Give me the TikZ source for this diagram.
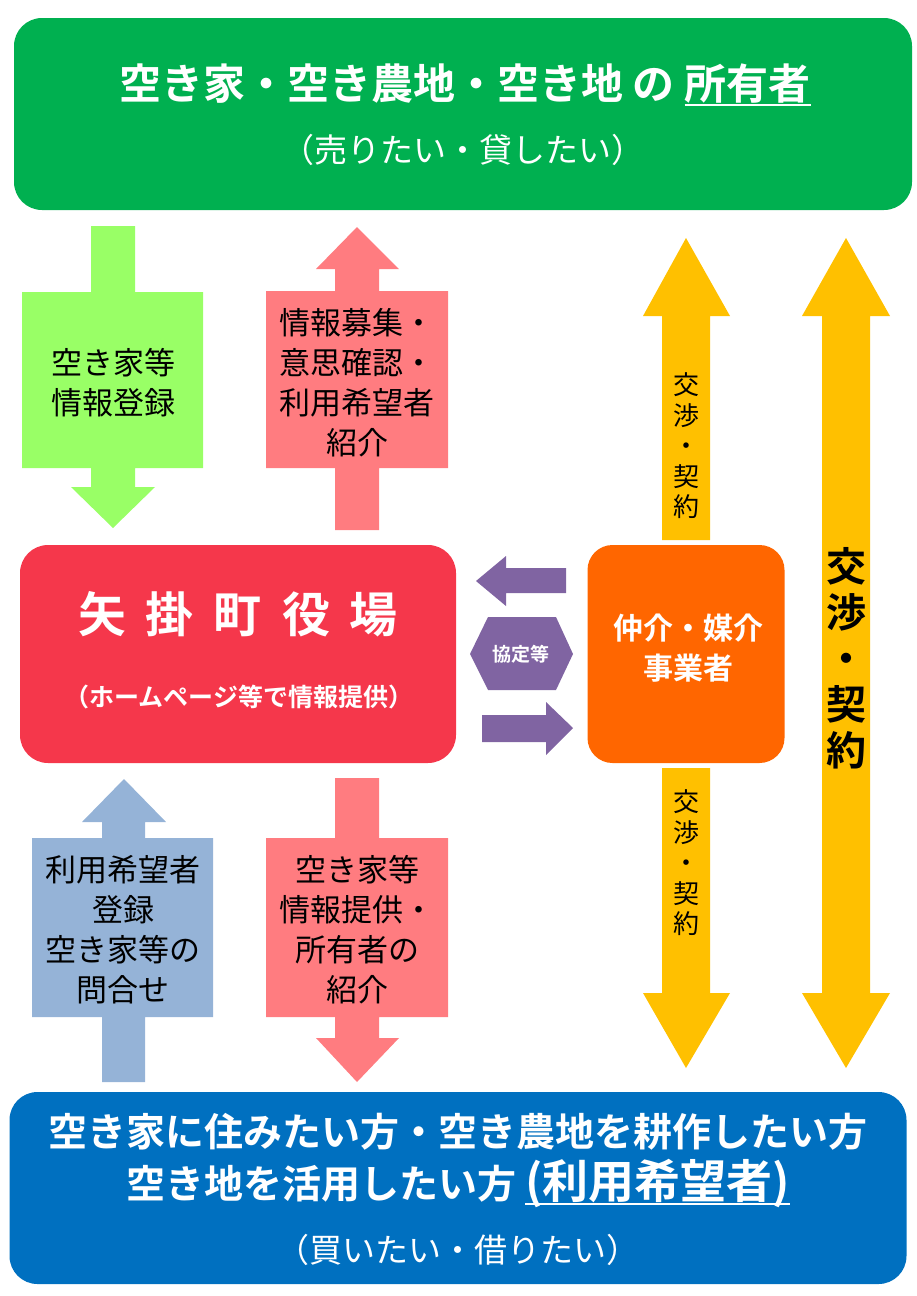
\documentclass[tikz,border=0pt]{standalone}
\usepackage{fontspec}
\setmainfont{Noto Sans CJK JP}[BoldFont={Noto Sans CJK JP Bold}]
\usetikzlibrary{positioning, calc}
\definecolor{ownergreen}{RGB}{0, 176, 80}
\definecolor{reggreen}{RGB}{153, 255, 102}
\definecolor{infopink}{RGB}{255, 124, 128}
\definecolor{dealyellow}{RGB}{255, 192, 0}
\definecolor{townred}{RGB}{245, 55, 75}
\definecolor{brokerorange}{RGB}{255, 102, 0}
\definecolor{pactpurple}{RGB}{128, 100, 162}
\definecolor{userblue}{RGB}{149, 179, 215}
\definecolor{userbox}{RGB}{0, 112, 192}
\newcommand{\thickul}[1]{\setbox0\hbox{#1}\rlap{\rule[-7pt]{\wd0}{2.5pt}}\box0}

\begin{document}
\begin{tikzpicture}[
    x=1pt, y=-1pt,
    mainbox/.style={rounded corners=28pt, inner sep=0pt},
    whitetext/.style={text=white, font=\bfseries, align=center, inner sep=0pt},
    subtext/.style={text=white, align=center, inner sep=0pt},
    arrowtext/.style={text=black, align=center, inner sep=0pt, font=\fontsize{31}{40}\selectfont},
    dealtext/.style={text=black, align=center, inner sep=0pt, font=\fontsize{26}{30.5}\selectfont}
]
\useasboundingbox (0,0) rectangle (917,1296);

% Owner box
\node (owner) [mainbox, fill=ownergreen, minimum width=898pt, minimum height=192pt] at (463,114) {};
\node (ownertitle) [whitetext, font=\bfseries\fontsize{42}{48}\selectfont] at (465,85) {空き家・空き農地・空き地 の \thickul{所有者}};
\node (ownersub) [subtext, font=\fontsize{33}{36}\selectfont] at (463,150) {（売りたい・貸したい）};

% Registration and recruiting arrows
\fill[reggreen] (91,226) -- (135,226) -- (135,292) -- (203,292) -- (203,468) -- (135,468) -- (135,487) -- (155,487) -- (113,528) -- (71,487) -- (91,487) -- (91,468) -- (22,468) -- (22,292) -- (91,292) -- cycle;
\node (reg) [arrowtext] at (113,383) {空き家等\\情報登録};

\fill[infopink] (357,227) -- (399,269) -- (379,269) -- (379,291) -- (448,291) -- (448,468) -- (379,468) -- (379,530) -- (335,530) -- (335,468) -- (266,468) -- (266,291) -- (335,291) -- (335,269) -- (316,269) -- cycle;
\node (recruit) [arrowtext] at (357,383) {情報募集・\\意思確認・\\利用希望者\\紹介};

% Negotiation arrows
\fill[dealyellow] (686,238) -- (730,316) -- (710,316) -- (710,540) -- (662,540) -- (662,316) -- (643,316) -- cycle;
\node (dealup) [dealtext] at (686,446) {交\\渉\\・\\契\\約};

\fill[dealyellow] (686,1068) -- (730,993) -- (710,993) -- (710,768) -- (662,768) -- (662,993) -- (643,993) -- cycle;
\node (dealdown) [dealtext] at (686,863) {交\\渉\\・\\契\\約};

\fill[dealyellow] (846,238) -- (890,316) -- (870,316) -- (870,993) -- (890,993) -- (846,1068) -- (802,993) -- (822,993) -- (822,316) -- (802,316) -- cycle;
\node (dealall) [dealtext, font=\bfseries\fontsize{40}{46}\selectfont] at (846,658) {交\\渉\\・\\契\\約};

% Town office
\node (town) [mainbox, fill=townred, minimum width=436pt, minimum height=218pt] at (238,654) {};
\node (towntitle) [whitetext, font=\bfseries\fontsize{48}{50}\selectfont] at (238,614) {矢\hspace{20pt}掛\hspace{20pt}町\hspace{20pt}役\hspace{20pt}場};
\node (townsub) [whitetext, font=\bfseries\fontsize{25}{28}\selectfont] at (239,697) {（ホームページ等で情報提供）};

% Agreement
\fill[pactpurple] (476,581) -- (506,556) -- (506,568) -- (566,568) -- (566,593) -- (506,593) -- (506,606) -- cycle;
\fill[pactpurple] (470,654) -- (488,617) -- (556,617) -- (573,654) -- (556,690) -- (488,690) -- cycle;
\node (pact) [whitetext, font=\bfseries\fontsize{19}{20}\selectfont] at (521,654) {協定等};
\fill[pactpurple] (573,728) -- (546,702) -- (546,715) -- (482,715) -- (482,742) -- (546,742) -- (546,755) -- cycle;

% Broker
\node (broker) [mainbox, rounded corners=25pt, fill=brokerorange, minimum width=197pt, minimum height=218pt] at (686,654) {};
\node (brokertext) [whitetext, font=\bfseries\fontsize{30}{40}\selectfont] at (688,648) {仲介・媒介\\事業者};

% User registration and introduction arrows
\fill[userblue] (124,779) -- (166,822) -- (145,822) -- (145,838) -- (213,838) -- (213,1017) -- (145,1017) -- (145,1082) -- (102,1082) -- (102,1017) -- (32,1017) -- (32,838) -- (102,838) -- (102,822) -- (82,822) -- cycle;
\node (userreg) [arrowtext] at (123,930) {利用希望者\\登録\\空き家等の\\問合せ};

\fill[infopink] (335,778) -- (379,778) -- (379,838) -- (448,838) -- (448,1017) -- (379,1017) -- (379,1038) -- (399,1038) -- (357,1082) -- (316,1038) -- (335,1038) -- (335,1017) -- (266,1017) -- (266,838) -- (335,838) -- cycle;
\node (intro) [arrowtext] at (357,930) {空き家等\\情報提供・\\所有者の\\紹介};

% User box
\node (users) [mainbox, fill=userbox, minimum width=897pt, minimum height=192pt] at (458,1188) {};
\node (userline1) [whitetext, font=\bfseries\fontsize{39}{46}\selectfont] at (458,1132) {空き家に住みたい方・空き農地を耕作したい方};
\node (userline2) [whitetext, font=\bfseries\fontsize{39}{46}\selectfont] at (458,1183) {空き地を活用したい方 \thickul{{\fontsize{46}{48}\selectfont (利用希望者)}}};
\node (usersub) [subtext, font=\fontsize{33}{36}\selectfont] at (458,1250) {（買いたい・借りたい）};

\end{tikzpicture}
\end{document}
